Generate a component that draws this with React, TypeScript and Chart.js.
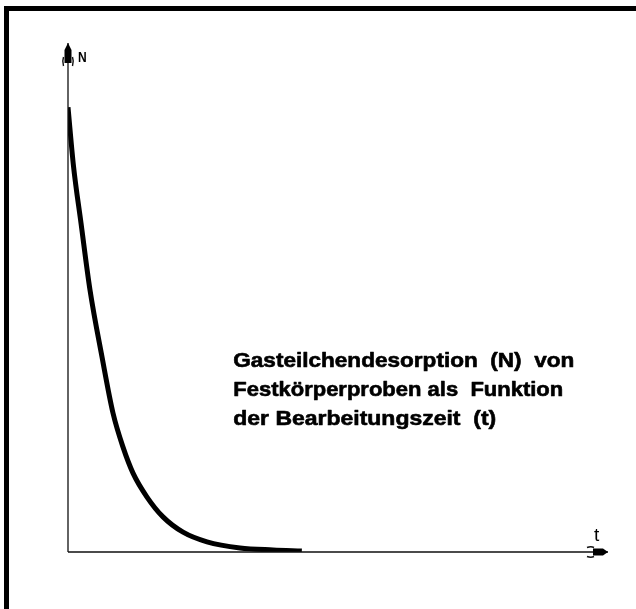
import React, { useEffect, useRef } from "react";
import { Chart, registerables } from "chart.js";

Chart.register(...registerables);

// Processing time t (arbitrary units) and desorbed gas particles N (arbitrary units)
const timeValues = [0, 1.0, 2.41, 4.07, 6.3, 8.33, 10.19, 12.04, 14.63, 17.59, 21.3, 25.74, 31.85, 37.96, 43.3];
const nValues = [87.4, 76.0, 64.6, 51.5, 38.3, 27.3, 20.6, 15.5, 10.8, 6.9, 3.9, 2.0, 0.8, 0.4, 0.2];
const axisLabels = ["N", "t"];
const annotationLines = [
  "Gasteilchendesorption  (N)  von",
  "Festkörperproben als  Funktion",
  "der Bearbeitungszeit  (t)",
];

const decorPlugin = {
  id: "decor",
  beforeDraw(chart: any) {
    const ctx = chart.ctx;
    ctx.save();
    ctx.fillStyle = "#ffffff";
    ctx.fillRect(0, 0, chart.width, chart.height);
    ctx.fillStyle = "#000000";
    ctx.fillRect(4, 6, chart.width - 4, 5);
    ctx.fillRect(4, 6, 5, chart.height - 6);
    ctx.restore();
  },
  afterDraw(chart: any) {
    const ctx = chart.ctx;
    const xs = chart.scales.x;
    const ys = chart.scales.y;
    const x0 = xs.getPixelForValue(0);
    const x1 = xs.getPixelForValue(100);
    const y0 = ys.getPixelForValue(0);
    const y1 = ys.getPixelForValue(100);
    ctx.save();
    ctx.strokeStyle = "#111";
    ctx.lineWidth = 1.3;
    ctx.beginPath();
    ctx.moveTo(x0, y0);
    ctx.lineTo(x0, y1);
    ctx.moveTo(x0, y0);
    ctx.lineTo(x1, y0);
    ctx.stroke();

    // y arrow
    ctx.fillStyle = "#000";
    ctx.beginPath();
    ctx.moveTo(x0, y1);
    ctx.lineTo(x0 + 3.5, y1 + 7);
    ctx.lineTo(x0 + 3.5, y1 + 20);
    ctx.lineTo(x0 - 3.5, y1 + 20);
    ctx.lineTo(x0 - 3.5, y1 + 7);
    ctx.closePath();
    ctx.fill();
    ctx.lineWidth = 1.4;
    ctx.beginPath();
    ctx.moveTo(x0 - 4.5, y1 + 14);
    ctx.quadraticCurveTo(x0 - 6, y1 + 18, x0 - 4.5, y1 + 23);
    ctx.moveTo(x0 + 4.5, y1 + 14);
    ctx.quadraticCurveTo(x0 + 6, y1 + 18, x0 + 4.5, y1 + 23);
    ctx.stroke();

    // x arrow
    ctx.beginPath();
    ctx.moveTo(x1, y0);
    ctx.lineTo(x1 - 5, y0 - 3.5);
    ctx.lineTo(x1 - 15, y0 - 3.5);
    ctx.lineTo(x1 - 15, y0 + 3.5);
    ctx.lineTo(x1 - 5, y0 + 3.5);
    ctx.closePath();
    ctx.fill();
    ctx.beginPath();
    ctx.moveTo(x1 - 21, y0 - 4.5);
    ctx.quadraticCurveTo(x1 - 17, y0 - 6, x1 - 14, y0 - 4.5);
    ctx.moveTo(x1 - 21, y0 + 4.5);
    ctx.quadraticCurveTo(x1 - 17, y0 + 6, x1 - 14, y0 + 4.5);
    ctx.stroke();

    // axis labels
    ctx.fillStyle = "#000";
    ctx.textBaseline = "alphabetic";
    ctx.font = "bold 15px 'Liberation Sans', Arial, sans-serif";
    ctx.save();
    ctx.translate(x0 + 10, y1 + 19);
    ctx.scale(0.8, 1);
    ctx.fillText(axisLabels[0], 0, 0);
    ctx.restore();
    ctx.font = "19px 'Liberation Sans', Arial, sans-serif";
    ctx.fillText(axisLabels[1], x1 - 14, y0 - 11);

    // annotation
    ctx.font = "bold 20px 'Liberation Sans', Arial, sans-serif";
    ctx.strokeStyle = "#000";
    ctx.lineWidth = 0.6;
    ctx.lineJoin = "round";
    const tx = xs.getPixelForValue(30.6);
    const targetWidths = [341, 330, 263];
    annotationLines.forEach((line, i) => {
      const by = ys.getPixelForValue(36.3) + i * 29;
      const w = ctx.measureText(line).width;
      const s = targetWidths[i] / w;
      ctx.save();
      ctx.translate(tx, by);
      ctx.scale(s, 1);
      ctx.fillText(line, 0, 0);
      ctx.strokeText(line, 0, 0);
      ctx.restore();
    });
    ctx.restore();
  },
};

export default function App() {
  const ref = useRef<HTMLCanvasElement | null>(null);
  useEffect(() => {
    if (!ref.current) return;
    const chart = new Chart(ref.current, {
      type: "line",
      data: {
        datasets: [
          {
            data: timeValues.map((t, i) => ({ x: t, y: nValues[i] })),
            borderColor: "#000",
            borderWidth: 5,
            pointRadius: 0,
            cubicInterpolationMode: "monotone",
            fill: false,
          },
        ],
      },
      options: {
        animation: false,
        responsive: false,
        events: [],
        layout: { padding: { left: 68, right: 28, top: 43, bottom: 57 } },
        plugins: { legend: { display: false }, tooltip: { enabled: false } },
        scales: {
          x: { type: "linear", min: 0, max: 100, display: false },
          y: { type: "linear", min: 0, max: 100, display: false },
        },
      },
      plugins: [decorPlugin],
    });
    return () => chart.destroy();
  }, []);
  return (
    <div style={{ position: "fixed", left: 0, top: 0, width: 636, height: 609, background: "#fff" }}>
      <canvas ref={ref} width={636} height={609} />
    </div>
  );
}
